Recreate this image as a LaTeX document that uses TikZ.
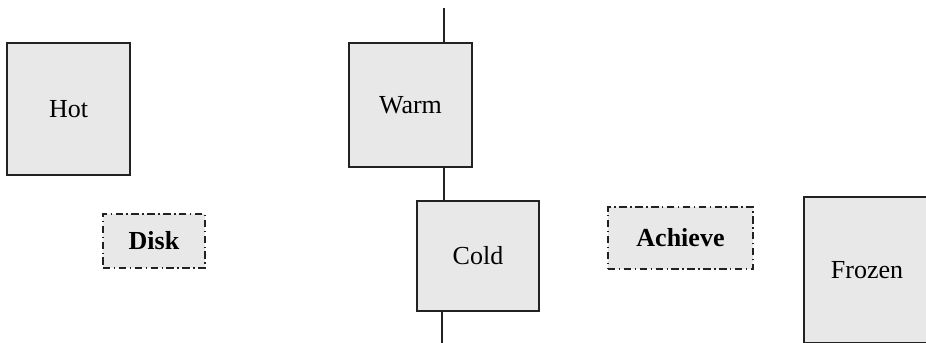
\documentclass[tikz,border=0pt]{standalone}
\usepackage{fontspec}
\setmainfont{Liberation Serif}
\usepackage{tikz}
\definecolor{boxfill}{HTML}{E8E8E8}
\definecolor{ink}{HTML}{222222}
\tikzset{sc/.style={x=0.75pt,y=0.75pt,line width=1.3pt,font=\fontsize{19.5}{23}\selectfont},
  tier/.style={draw=ink,fill=boxfill,inner sep=0pt},
  media/.style={draw=ink,fill=boxfill,inner sep=0pt,font=\fontsize{19.5}{23}\selectfont\bfseries,
    dash pattern=on 5.6pt off 2.6pt on 1.1pt off 2.6pt}}

\begin{document}
\begin{tikzpicture}[sc]
  \useasboundingbox (0,0) rectangle (926,343);
  \node[tier,minimum width=92.25pt,minimum height=99pt] (hot) at (68.5,234){Hot};
  \node[tier,minimum width=92.25pt,minimum height=93pt] (warm) at (410.5,238){Warm};
  \node[tier,minimum width=91.5pt,minimum height=82.5pt] (cold) at (478,87){Cold};
  \node[tier,minimum width=94.5pt,minimum height=109.5pt] (frozen) at (867,73){Frozen};
  \node[media,minimum width=76.5pt,minimum height=40.5pt] (disk) at (154,102){Disk};
  \node[media,minimum width=108.75pt,minimum height=46.5pt] (achieve) at (680.5,105){Achieve};
  \coordinate (top) at (444,335);
  \coordinate (bot) at (442,0);
  \draw[ink] (top)--(top|-warm.north);
  \draw[ink] (top|-warm.south)--(top|-cold.north);
  \draw[ink] (bot|-cold.south)--(bot);
\end{tikzpicture}
\end{document}
